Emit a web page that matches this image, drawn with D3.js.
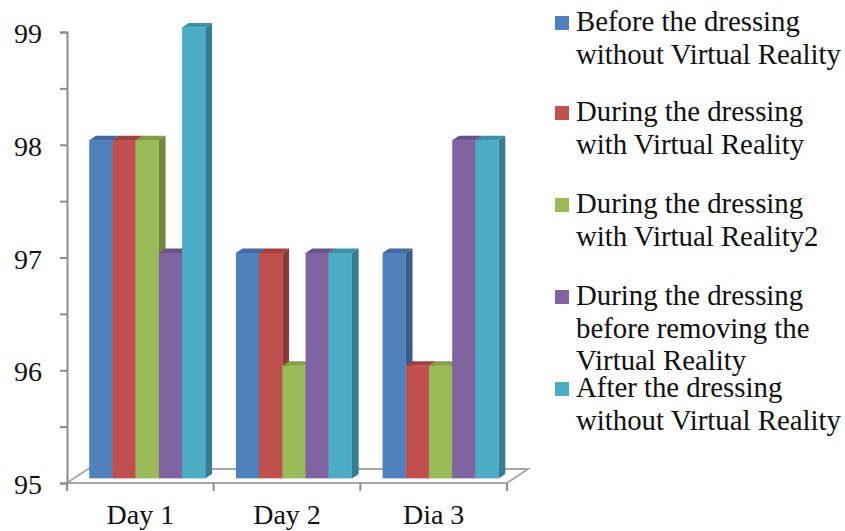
<!DOCTYPE html>
<html>
<head>
<meta charset="utf-8">
<script src="https://cdn.jsdelivr.net/npm/d3@7"></script>
<style>
  html, body { margin: 0; padding: 0; background: #fff; }
  svg { display: block; }
  text { font-family: "Liberation Serif", "Times New Roman", serif; fill: #111; }
</style>
</head>
<body>
<svg id="chart" width="845" height="531"></svg>
<script>
// Categories, series and values
const categories = ["Day 1", "Day 2", "Dia 3"];
const seriesNames = [
  "Before the dressing without Virtual Reality",
  "During the dressing with Virtual Reality",
  "During the dressing with Virtual Reality2",
  "During the dressing before removing the Virtual Reality",
  "After the dressing without Virtual Reality"
];
const legendLines = [
  ["Before the dressing", "without Virtual Reality"],
  ["During the dressing", "with Virtual Reality"],
  ["During the dressing", "with Virtual Reality2"],
  ["During the dressing", "before removing the", "Virtual Reality"],
  ["After the dressing", "without Virtual Reality"]
];
const beforeNoVR   = [98, 97, 97];
const duringVR     = [98, 97, 96];
const duringVR2    = [98, 96, 96];
const beforeRemove = [97, 97, 98];
const afterNoVR    = [99, 97, 98];
const seriesValues = [beforeNoVR, duringVR, duringVR2, beforeRemove, afterNoVR];
const yTickValues = [95, 95.5, 96, 96.5, 97, 97.5, 98, 98.5, 99];
const yTickLabels = ["95", "", "96", "", "97", "", "98", "", "99"];

// Face colours: front, top, side
const frontColors = ["#4F81BD", "#C0504D", "#9BBB59", "#8064A2", "#4BACC6"];
const topColors   = ["#3E6BA3", "#A4413E", "#82A047", "#6A5189", "#3A93AB"];
const sideColors  = ["#385D8A", "#8C3836", "#71893F", "#5C4776", "#357D91"];

const svg = d3.select("#chart");

// Plot geometry (front plane of the floor)
const plotLeft = 67, plotRight = 507, plotTop = 32, plotBottom = 483;
const depthX = 21, depthY = 14;        // full floor depth in screen pixels
const d0 = 0.33, d1 = 0.65;            // bar depth span as a fraction of the floor

const y = d3.scaleLinear().domain([95, 99]).range([plotBottom, plotTop]);
const x0 = d3.scaleBand().domain(categories).range([plotLeft, plotRight]).padding(0);
const x1 = d3.scaleBand().domain(d3.range(seriesNames.length))
  .range([0, x0.bandwidth()]).paddingInner(0).paddingOuter(0.66);

const axisGrey = "#8d8d8d", floorGrey = "#a8a8a8";

// Floor
const floor = svg.append("g");
const floorPts = [[plotLeft, plotBottom], [plotRight, plotBottom],
  [plotRight + depthX, plotBottom - depthY], [plotLeft + depthX, plotBottom - depthY]];
floor.append("polygon")
  .attr("points", floorPts.map(p => p.join(",")).join(" "))
  .attr("fill", "#fff").attr("stroke", floorGrey).attr("stroke-width", 2);

// Category ticks below the front edge
floor.selectAll("line.ctick")
  .data(categories.map(c => x0(c)).concat([plotRight]))
  .join("line")
  .attr("x1", d => d).attr("x2", d => d)
  .attr("y1", plotBottom).attr("y2", plotBottom + 8)
  .attr("stroke", axisGrey).attr("stroke-width", 2);

// Value axis
const yAxis = d3.axisLeft(y).tickValues(yTickValues)
  .tickFormat((d, i) => yTickLabels[i]).tickSize(7).tickPadding(18);
const yg = svg.append("g").attr("transform", `translate(${plotLeft},0)`).call(yAxis);
yg.select(".domain").attr("stroke", axisGrey).attr("stroke-width", 2);
yg.selectAll(".tick line").attr("stroke", axisGrey).attr("stroke-width", 2);
yg.selectAll(".tick text")
  .attr("font-size", 28).attr("fill", "#111")
  .attr("dy", "0.38em").attr("x", -25);

// Bars drawn left to right so each front face hides the previous side face
const offX = d0 * depthX, offY = d0 * depthY;
const ddx = (d1 - d0) * depthX, ddy = (d1 - d0) * depthY;
const bars = [];
categories.forEach((c, ci) => {
  seriesValues.forEach((vals, si) => {
    bars.push({ ci, si, v: vals[ci], c });
  });
});
const barG = svg.append("g");
bars.forEach(b => {
  const bx = x0(b.c) + x1(b.si) + offX;
  const w = x1.bandwidth();
  const yt = y(b.v) - offY, yb = y(95) - offY;
  const g = barG.append("g");
  g.append("rect").attr("x", bx).attr("y", yt).attr("width", w).attr("height", yb - yt)
    .attr("fill", frontColors[b.si]);
  g.append("polygon")
    .attr("points", [[bx, yt], [bx + w, yt], [bx + w + ddx, yt - ddy], [bx + ddx, yt - ddy]].map(p => p.join(",")).join(" "))
    .attr("fill", topColors[b.si]);
  g.append("polygon")
    .attr("points", [[bx + w, yt], [bx + w + ddx, yt - ddy], [bx + w + ddx, yb - ddy], [bx + w, yb]].map(p => p.join(",")).join(" "))
    .attr("fill", sideColors[b.si]);
});

// Category labels
svg.append("g").selectAll("text")
  .data(categories).join("text")
  .attr("x", d => x0(d) + x0.bandwidth() / 2)
  .attr("y", 524)
  .attr("text-anchor", "middle")
  .attr("font-size", 28)
  .text(d => d);

// Legend
const legendBaselines = [31, 121, 213, 305, 397];
const lineStep = 32.5;
const lg = svg.append("g");
legendLines.forEach((lines, i) => {
  const base = legendBaselines[i];
  lg.append("rect").attr("x", 555).attr("y", base - 15).attr("width", 14).attr("height", 14)
    .attr("fill", frontColors[i]);
  const t = lg.append("text").attr("x", 576).attr("y", base).attr("font-size", 28.8);
  lines.forEach((ln, k) => {
    t.append("tspan").attr("x", 576).attr("y", base + k * lineStep).text(ln);
  });
});
</script>
</body>
</html>
